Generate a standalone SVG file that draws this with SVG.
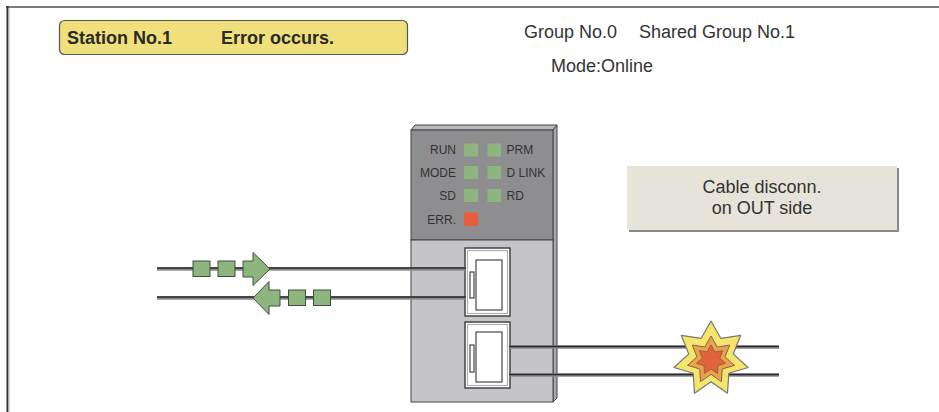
<svg xmlns="http://www.w3.org/2000/svg" width="939" height="412" viewBox="0 0 939 412">
  <style>
    .sans { font-family: "Liberation Sans", Arial, sans-serif; }
    .hdr { font-size: 18px; fill: #333; }
    .led-lbl { font-size: 12px; fill: #333; }
    .led { fill: #8db57d; }
    .led-err { fill: #e85d3a; }
    .pkt { fill: #8db57d; stroke: #3e4e3e; stroke-width: 1; }
    .cable-shade { fill: none; stroke: #8a8a8a; stroke-width: 3.5; }
    .cable { fill: none; stroke: #2a2a2a; stroke-width: 1.5; }
    .port-out { fill: #fff; stroke: #444; stroke-width: 1.5; }
    .port-in { fill: none; stroke: #b0b0b0; stroke-width: 1.2; }
    .port-jack { fill: #fff; stroke: #555; stroke-width: 1.3; }
  </style>

  <rect width="939" height="412" fill="#fff"/>

  <!-- window frame -->
  <line x1="6" y1="7" x2="939" y2="7" stroke="#7a7a7a" stroke-width="2"/>
  <line x1="7.5" y1="6" x2="7.5" y2="412" stroke="#333" stroke-width="2"/>
  <line x1="9" y1="8" x2="9" y2="412" stroke="#bbb" stroke-width="1"/>

  <!-- status banner -->
  <g id="status">
    <rect x="59.5" y="20.5" width="348" height="34" rx="5" fill="#efe07b" stroke="#555" stroke-width="1.2"/>
    <text class="sans" x="67" y="43.5" font-size="18" font-weight="bold" fill="#2a2a2a">Station No.1</text>
    <text class="sans" x="221" y="43.5" font-size="18" font-weight="bold" fill="#2a2a2a">Error occurs.</text>
  </g>

  <!-- group / mode info -->
  <g id="info">
    <text class="sans hdr" x="524" y="38">Group No.0</text>
    <text class="sans hdr" x="639" y="38">Shared Group No.1</text>
    <text class="sans hdr" x="551" y="72">Mode:Online</text>
  </g>

  <!-- message box -->
  <g id="message">
    <rect x="629" y="168" width="270" height="64" fill="#8a8a8a"/>
    <rect x="627" y="166" width="270" height="64" fill="#e6e3d8"/>
    <text class="sans" x="762" y="193" font-size="18" fill="#333" text-anchor="middle">Cable disconn.</text>
    <text class="sans" x="762" y="214" font-size="18" fill="#333" text-anchor="middle">on OUT side</text>
  </g>

  <!-- network module -->
  <g id="module">
    <polygon points="411,130 415,125 557,125 553,130" fill="#b9b9bc" stroke="#444" stroke-width="1"/>
    <polygon points="553,130 557,125 557,398 553,402" fill="#a9a9ad" stroke="#444" stroke-width="1"/>
    <rect x="411" y="130" width="142" height="110" fill="#8e8e91" stroke="#444" stroke-width="1"/>
    <rect x="411" y="240" width="142" height="162" fill="#c5c5c9" stroke="#444" stroke-width="1"/>

    <!-- LEDs -->
    <text class="sans led-lbl" x="456" y="154" text-anchor="end">RUN</text>
    <rect class="led" x="464" y="143.5" width="14" height="13"/>
    <rect class="led" x="487.5" y="143.5" width="13.5" height="13"/>
    <text class="sans led-lbl" x="506.5" y="154">PRM</text>

    <text class="sans led-lbl" x="456" y="177" text-anchor="end">MODE</text>
    <rect class="led" x="464" y="166" width="14" height="13"/>
    <rect class="led" x="487.5" y="166" width="13.5" height="13"/>
    <text class="sans led-lbl" x="506.5" y="177">D LINK</text>

    <text class="sans led-lbl" x="456" y="200" text-anchor="end">SD</text>
    <rect class="led" x="464" y="189" width="14" height="13"/>
    <rect class="led" x="487.5" y="189" width="13.5" height="13"/>
    <text class="sans led-lbl" x="506.5" y="200">RD</text>

    <text class="sans led-lbl" x="456" y="223.5" text-anchor="end">ERR.</text>
    <rect class="led-err" x="464" y="212.5" width="14" height="13.5"/>

    <!-- IN port -->
    <rect class="port-out" x="465" y="248" width="45" height="68"/>
    <rect class="port-in" x="467.5" y="250.5" width="40" height="63"/>
    <rect class="port-jack" x="476" y="260" width="26" height="50"/>
    <rect class="port-jack" x="470" y="272" width="4" height="26"/>

    <!-- OUT port -->
    <rect class="port-out" x="465" y="322" width="45" height="66"/>
    <rect class="port-in" x="467.5" y="324.5" width="40" height="61"/>
    <rect class="port-jack" x="476" y="332" width="26" height="50"/>
    <rect class="port-jack" x="470" y="345" width="4" height="27"/>
  </g>

  <!-- cables -->
  <g id="connectors">
    <path class="cable-shade" d="M157,269 H465 M157,298 H465 M510,347 H779 M510,375 H779"/>
    <path class="cable" d="M157,268 H466 M157,297 H466 M509,346.5 H779 M509,374.5 H779"/>
  </g>

  <!-- data packets on the IN cables -->
  <g id="packets-in">
    <rect class="pkt" x="193" y="261" width="17" height="15.5"/>
    <rect class="pkt" x="218" y="261" width="17" height="15.5"/>
    <polygon class="pkt" points="243,261 253,261 253,252.5 270,269 253,285.5 253,277 243,277"/>
  </g>
  <g id="packets-out">
    <polygon class="pkt" points="253,298 269,281.5 269,290 280,290 280,306 269,306 269,314.5"/>
    <rect class="pkt" x="288.5" y="290" width="17" height="15.5"/>
    <rect class="pkt" x="313.5" y="290" width="17" height="15.5"/>
  </g>

  <!-- break marker on the OUT cable: three nested seven-point stars -->
  <g id="break">
    <polygon fill="#f5e56c" stroke="#777" stroke-width="1.2" stroke-linejoin="round"
      points="711,321 720.89,338.46 740.71,335.31 733.23,353.93 748.05,367.46 728.83,373.22 727.49,393.24 711,381.8 694.51,393.24 693.17,373.22 673.95,367.46 688.77,353.93 681.29,335.31 701.11,338.46"/>
    <polygon fill="#eaa24c" stroke="#7a6a50" stroke-width="1" stroke-linejoin="round"
      points="711,336 717.25,347.03 729.76,345.04 725.04,356.8 734.4,365.34 722.26,368.98 721.41,381.62 711,374.4 700.59,381.62 699.74,368.98 687.6,365.34 696.96,356.8 692.24,345.04 704.75,347.03"/>
    <polygon fill="#e0633a" stroke="#8a5a3a" stroke-width="0.8" stroke-linejoin="round"
      points="711,345 714.91,351.89 722.73,350.65 719.77,358 725.62,363.34 718.04,365.61 717.51,373.52 711,369 704.49,373.52 703.96,365.61 696.38,363.34 702.23,358 699.27,350.65 707.09,351.89"/>
  </g>
</svg>
